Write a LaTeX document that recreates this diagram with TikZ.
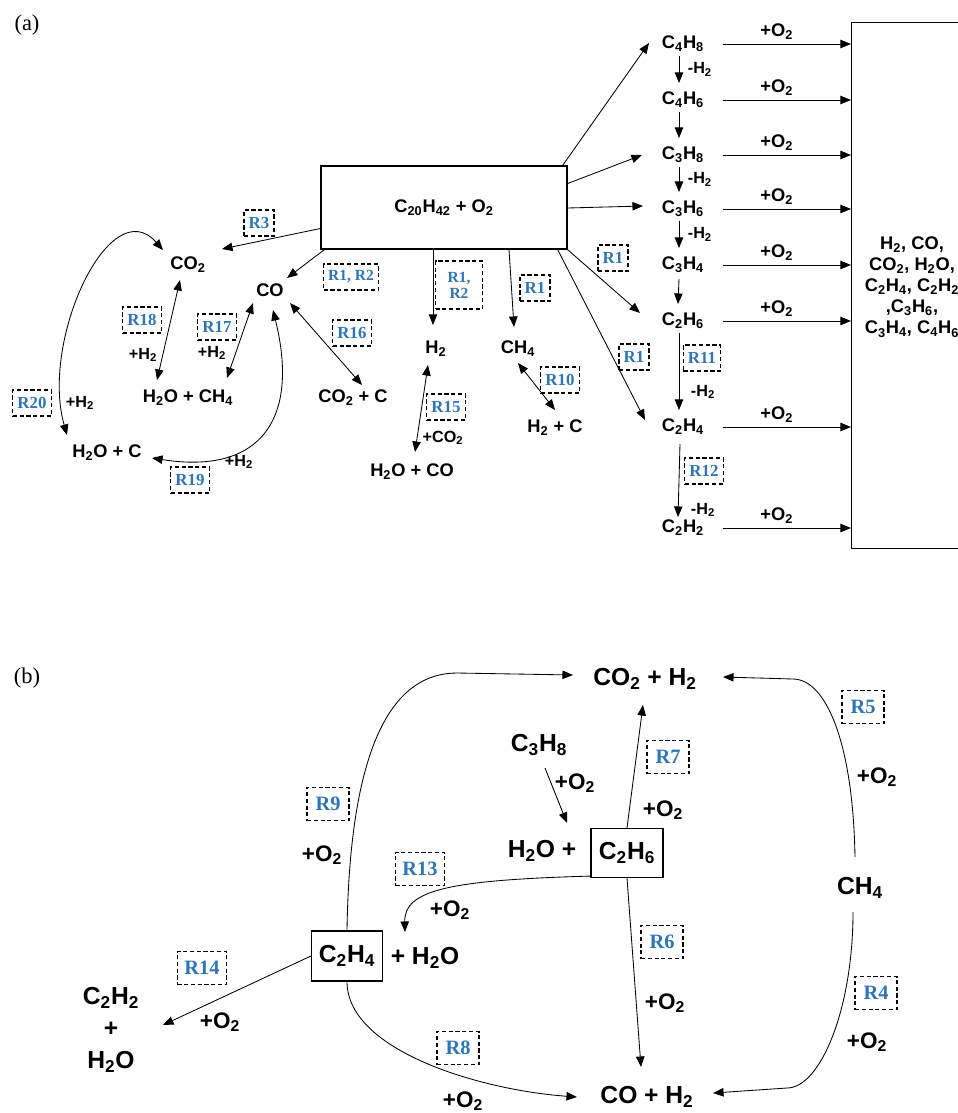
\documentclass[tikz,border=0pt]{standalone}
\usepackage{fontspec}
\setmainfont{Liberation Serif}
\setsansfont{Liberation Sans}
\usetikzlibrary{calc, positioning}
\usetikzlibrary{arrows.meta}

\begin{document}
\begin{tikzpicture}[x=0.025cm, y=-0.025cm, line width=0.6pt]
\def\pu{0.025cm}
\def\lo#1{\textsubscript{#1}}
\definecolor{rblue}{RGB}{46,117,182}
\tikzset{
  sp/.style={font=\sffamily\bfseries\fontsize{13}{15}\selectfont, inner sep=1pt},
  spb/.style={font=\sffamily\bfseries\fontsize{17.5}{21}\selectfont, inner sep=1pt},
  cond/.style={font=\sffamily\bfseries\fontsize{11.5}{13}\selectfont, inner sep=1pt},
  condb/.style={font=\sffamily\bfseries\fontsize{16}{19}\selectfont, inner sep=1pt},
  rbox/.style={draw, dash pattern=on 3pt off 1.8pt, line width=0.9pt, text=rblue, font=\bfseries\fontsize{12}{13}\selectfont, inner xsep=3.3pt, inner ysep=1pt, minimum height=26*\pu},
  rboxb/.style={rbox, font=\bfseries\fontsize{14.5}{16}\selectfont, inner xsep=5pt, minimum width=42*\pu, minimum height=33*\pu},
  arr/.style={-{Triangle[length=7.5pt, width=6pt]}},
  darr/.style={{Triangle[length=7.5pt, width=6pt]}-{Triangle[length=7.5pt, width=6pt]}},
  panel/.style={font=\fontsize{16}{18}\selectfont, inner sep=0pt}
}
\useasboundingbox (0,0) rectangle (958,1113);

\node[panel] (pa) at (27,25) {(a)};
\node[sp, draw, line width=1pt, minimum width=246*\pu, minimum height=83*\pu] (feed) at (444,207.5) {C\lo{20}H\lo{42} + O\lo2};
\node[draw, line width=1pt, anchor=north west, minimum width=130*\pu, minimum height=526*\pu] (out) at (851,22) {};
\node[sp, align=center] (outtxt) at (912,287) {H\lo2, CO,\\CO\lo2, H\lo2O,\\C\lo2H\lo4, C\lo2H\lo2\\,C\lo3H\lo6,\\C\lo3H\lo4, C\lo4H\lo6};

\node[sp] (c4h8) at (683,44) {C\lo4H\lo8};
\node[sp] (c4h6) at (683,100) {C\lo4H\lo6};
\node[sp] (c3h8) at (683,155) {C\lo3H\lo8};
\node[sp] (c3h6) at (683,209) {C\lo3H\lo6};
\node[sp] (c3h4) at (683,265) {C\lo3H\lo4};
\node[sp] (c2h6) at (683,321) {C\lo2H\lo6};
\node[sp] (c2h4) at (683,427) {C\lo2H\lo4};
\node[sp] (c2h2) at (683,528) {C\lo2H\lo2};

\draw[arr] ($(c4h8)+(40,0)$) -- (c4h8 -| out.west) node[sp, pos=0.42, above=2pt] {+O\lo2};
\draw[arr] ($(c4h6)+(40,0)$) -- (c4h6 -| out.west) node[sp, pos=0.42, above=2pt] {+O\lo2};
\draw[arr] ($(c3h8)+(40,0)$) -- (c3h8 -| out.west) node[sp, pos=0.42, above=2pt] {+O\lo2};
\draw[arr] ($(c3h6)+(40,0)$) -- (c3h6 -| out.west) node[sp, pos=0.42, above=2pt] {+O\lo2};
\draw[arr] ($(c3h4)+(40,0)$) -- (c3h4 -| out.west) node[sp, pos=0.42, above=2pt] {+O\lo2};
\draw[arr] ($(c2h6)+(40,0)$) -- (c2h6 -| out.west) node[sp, pos=0.42, above=2pt] {+O\lo2};
\draw[arr] ($(c2h4)+(40,0)$) -- (c2h4 -| out.west) node[sp, pos=0.42, above=2pt] {+O\lo2};
\draw[arr] ($(c2h2)+(40,0)$) -- (c2h2 -| out.west) node[sp, pos=0.42, above=2pt] {+O\lo2};

\draw[arr] ($(c4h8)+(-4,12)$) -- ($(c4h6)+(-4,-17)$) node[cond, midway, right=5pt] {-H\lo2};
\draw[arr] ($(c4h6)+(-4,12)$) -- ($(c3h8)+(-4,-17)$);
\draw[arr] ($(c3h8)+(-4,12)$) -- ($(c3h6)+(-4,-17)$) node[cond, midway, right=5pt] {-H\lo2};
\draw[arr] ($(c3h6)+(-4,12)$) -- ($(c3h4)+(-4,-17)$) node[cond, midway, right=5pt] {-H\lo2};
\draw[arr] ($(c3h4)+(-4,14)$) -- ($(c2h6)+(-5,-17)$);
\draw[arr] ($(c2h6)+(-4,12)$) -- ($(c2h4)+(-4,-17)$);
\draw[arr] ($(c2h4)+(-3,17)$) -- ($(c2h2)+(-5,-11)$);
\node[cond] (dh1) at (703,392) {-H\lo2};
\node[cond] (dh2) at (703,510) {-H\lo2};

\node[sp] (co2) at (188,265) {CO\lo2};
\node[sp] (co) at (270,290) {CO};
\node[sp] (h2och4) at (188,398) {H\lo2O + CH\lo4};
\node[sp] (co2c) at (353,398) {CO\lo2 + C};
\node[sp] (h2oc) at (107,453) {H\lo2O + C};
\node[sp] (h2) at (436,349) {H\lo2};
\node[sp] (h2oco) at (412,472) {H\lo2O + CO};
\node[sp] (ch4) at (518,349) {CH\lo4};
\node[sp] (h2c) at (555,428) {H\lo2 + C};

\draw[arr] ($(feed.west)+(0,21)$) -- ($(co2)+(34,-16)$);
\draw[arr] ($(feed.south west)+(4,0)$) -- ($(co)+(17,-12)$);
\draw[arr] ($(feed.south)+(-11,0)$) -- ($(h2)+(-3,-24)$);
\draw[arr] ($(feed.south)+(65,0)$) -- ($(ch4)+(-4,-22)$);
\draw[arr] ($(feed.south east)+(-10,0)$) -- ($(c2h4)+(-38,-7)$);
\draw[arr] (feed.south east) -- ($(c2h6)+(-43,-8)$);
\draw[arr] ($(feed.east)+(0,0.5)$) -- ($(c3h6)+(-40,-3)$);
\draw[arr] ($(feed.east)+(0,-24)$) -- ($(c3h8)+(-41,0)$);
\draw[arr] ($(feed.north east)+(-5,0)$) -- ($(c4h8)+(-34,-1)$);

\draw[darr] ($(co)+(20,13)$) -- ($(co2c)+(9,-13)$);
\draw[darr] ($(co2)+(-8,15)$) -- ($(h2och4)+(-31,-18)$);
\draw[darr] ($(co)+(-17,13)$) -- ($(h2och4)+(39,-20)$);
\draw[darr] ($(co)+(3,20)$) .. controls +(27,110) and +(108,17) .. ($(h2oc)+(45,5)$);
\draw[darr] ($(co2)+(-25,-15)$) .. controls +(-53,-60) and +(-27,-95) .. ($(h2oc)+(-40,-18)$);
\draw[darr] ($(h2)+(-8,16)$) -- ($(h2oco)+(3,-20)$);
\draw[darr] ($(ch4)+(0,14)$) -- ($(h2c)+(0,-18)$);

\node[rbox] (r3) at (259,223) {R3};
\node[rbox, font=\bfseries\fontsize{11}{12}\selectfont] (r12a) at (351,277) {R1, R2};
\node[rbox, align=center, font=\bfseries\fontsize{11}{11.5}\selectfont, minimum width=47*\pu, minimum height=48*\pu] (r12b) at (459,285) {R1,\\R2};
\node[rbox] (r1a) at (535,288) {R1};
\node[rbox] (r1b) at (613,258) {R1};
\node[rbox] (r1c) at (634,357) {R1};
\node[rbox] (r16) at (352,333) {R16};
\node[rbox] (r18) at (142,320) {R18};
\node[rbox] (r17) at (217,327) {R17};
\node[rbox] (r20) at (32,403) {R20};
\node[rbox] (r19) at (190,480) {R19};
\node[rbox] (r15) at (446,407) {R15};
\node[rbox] (r10) at (560,380) {R10};
\node[rbox] (r11) at (702,358) {R11};
\node[rbox] (r12) at (704,471) {R12};

\node[cond] (ha) at (143,355) {+H\lo2};
\node[cond] (hb) at (212,353) {+H\lo2};
\node[cond] (hc) at (80,403) {+H\lo2};
\node[cond] (hd) at (239,462) {+H\lo2};
\node[cond] (cx) at (443,438) {+CO\lo2};

\node[panel] (pb) at (27,678) {(b)};
\node[spb] (co2h2) at (645,679) {CO\lo2 + H\lo2};
\node[spb] (coh2) at (647,1097) {CO + H\lo2};
\node[spb] (c3h8b) at (539,745) {C\lo3H\lo8};
\node[spb] (h2oplus) at (542,851) {H\lo2O +};
\node[spb, draw, line width=0.8pt, minimum width=72*\pu, minimum height=49*\pu] (c2h6b) at (627,853) {C\lo2H\lo6};
\node[spb] (ch4b) at (860,888) {CH\lo4};
\node[spb, draw, line width=0.8pt, minimum width=71*\pu, minimum height=50*\pu] (c2h4b) at (347,956) {C\lo2H\lo4};
\node[spb] (h2ob) at (425,958) {+ H\lo2O};
\node[spb, align=center, font=\sffamily\bfseries\fontsize{17.5}{22.7}\selectfont] (c2h2b) at (111,1030) {C\lo2H\lo2\\+\\H\lo2O};

\draw[arr] ($(c3h8b)+(6,23)$) -- ($(h2oplus)+(25,-28)$);
\draw[arr] (c2h6b.north) -- ($(co2h2)+(-2,26)$);
\draw[arr] (c2h6b.south) -- ($(coh2)+(-6,-30)$);
\draw[arr] ($(ch4b)+(-5,-31)$) .. controls +(-2,-117) and +(32,0) .. ($(co2h2)+(148,0)$) -- ($(co2h2)+(78,-2)$);
\draw[arr] ($(ch4b)+(-7,24)$) .. controls +(0,98) and +(33,0) .. ($(coh2)+(140,-9)$) -- ($(coh2)+(66,-4)$);
\draw[arr] (c2h4b.north) .. controls +(3,-191) and +(-62,0) .. ($(co2h2)+(-188,-6)$) -- ($(co2h2)+(-72,-4)$);
\draw[arr] (c2h4b.south) .. controls +(0,69) and +(-97,-7) .. ($(coh2)+(-70,0)$);
\draw[arr] ($(c2h6b.south west)+(0,-2)$) .. controls +(-141,4) and +(-1,-42) .. ($(h2ob)+(-20,-26)$);
\draw[arr] (c2h4b.west) -- ($(c2h2b)+(52,-5)$);

\node[rboxb] (r5) at (863,707) {R5};
\node[rboxb] (r4) at (876,993) {R4};
\node[rboxb] (r7) at (668,757) {R7};
\node[rboxb] (r6) at (662,942) {R6};
\node[rboxb] (r9) at (328,804) {R9};
\node[rboxb] (r13) at (420,869) {R13};
\node[rboxb] (r14) at (202,968) {R14};
\node[rboxb] (r8) at (458,1048) {R8};

\node[condb] (o1) at (877,777) {+O\lo2};
\node[condb] (o2) at (867,1042) {+O\lo2};
\node[condb] (o3) at (663,810) {+O\lo2};
\node[condb] (o4) at (665,1003) {+O\lo2};
\node[condb] (o5) at (322,855) {+O\lo2};
\node[condb] (o6) at (450,910) {+O\lo2};
\node[condb] (o7) at (220,1022) {+O\lo2};
\node[condb] (o8) at (463,1101) {+O\lo2};
\node[condb] (o9) at (575,783) {+O\lo2};
\end{tikzpicture}
\end{document}
